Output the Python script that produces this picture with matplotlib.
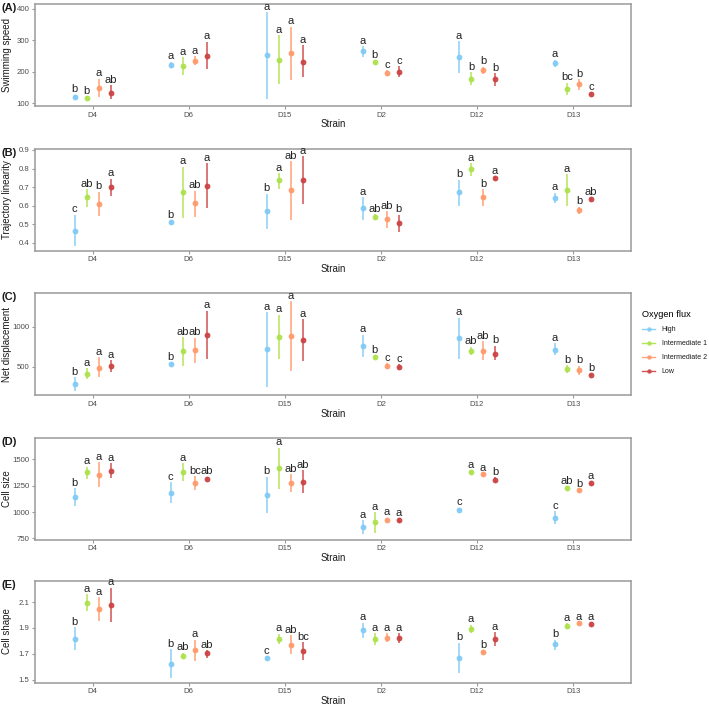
import numpy as np
import matplotlib
matplotlib.use("Agg")
import matplotlib.pyplot as plt
from matplotlib.lines import Line2D

plt.rcParams["font.family"] = ["Liberation Sans", "DejaVu Sans"]

# ── Data (rows = strain, columns = oxygen flux group) ─────────────────────────
strains = ["D4", "D6", "D15", "D2", "D12", "D13"]
groups = ["High", "Intermediate 1", "Intermediate 2", "Low"]
colors = ["#82CBF6", "#ACE24C", "#FF9A6C", "#CB4444"]

speed_mean = [[120, 117, 148, 133], [222, 217, 233, 250], [252, 238, 258, 232],
              [265, 229, 196, 200], [247, 178, 204, 176], [226, 145, 159, 129]]
speed_lo = [[114, 112, 118, 112], [212, 188, 220, 207], [113, 160, 172, 182],
            [247, 224, 187, 182], [197, 158, 193, 155], [215, 125, 143, 125]]
speed_hi = [[127, 122, 178, 157], [232, 245, 248, 295], [388, 316, 343, 283],
            [281, 234, 205, 218], [297, 198, 215, 195], [238, 165, 175, 133]]
speed_letters = [["b", "b", "a", "ab"], ["a", "a", "a", "a"], ["a", "a", "a", "a"],
                 ["a", "b", "c", "c"], ["a", "b", "b", "b"], ["a", "bc", "b", "c"]]

lin_mean = [[0.465, 0.645, 0.609, 0.700], [0.510, 0.675, 0.612, 0.707],
            [0.571, 0.740, 0.686, 0.740], [0.585, 0.538, 0.528, 0.506],
            [0.673, 0.797, 0.646, 0.751], [0.643, 0.684, 0.575, 0.634]]
lin_lo = [[0.380, 0.590, 0.545, 0.650], [0.500, 0.535, 0.540, 0.585],
          [0.475, 0.690, 0.525, 0.610], [0.520, 0.525, 0.480, 0.460],
          [0.600, 0.760, 0.600, 0.740], [0.615, 0.600, 0.555, 0.625]]
lin_hi = [[0.550, 0.690, 0.675, 0.745], [0.520, 0.810, 0.680, 0.830],
          [0.665, 0.775, 0.840, 0.865], [0.645, 0.555, 0.570, 0.550],
          [0.740, 0.830, 0.690, 0.760], [0.670, 0.770, 0.595, 0.645]]
lin_letters = [["c", "ab", "b", "a"], ["b", "a", "ab", "a"], ["b", "a", "ab", "a"],
               ["a", "ab", "ab", "b"], ["b", "a", "b", "a"], ["a", "a", "b", "ab"]]

disp_mean = [[283, 412, 487, 508], [533, 700, 708, 900], [717, 875, 883, 829],
             [762, 617, 508, 500], [862, 692, 700, 654], [712, 471, 454, 396]]
disp_lo = [[200, 345, 365, 430], [520, 510, 550, 600], [250, 590, 450, 565],
           [625, 600, 470, 470], [600, 640, 580, 580], [640, 420, 390, 380]]
disp_hi = [[370, 480, 620, 580], [550, 870, 860, 1200], [1180, 1150, 1320, 1090],
           [900, 640, 545, 530], [1110, 750, 820, 760], [790, 520, 510, 410]]
disp_letters = [["b", "a", "a", "a"], ["b", "ab", "ab", "a"], ["a", "a", "a", "a"],
                ["a", "b", "c", "c"], ["a", "ab", "ab", "b"], ["a", "b", "b", "b"]]

size_mean = [[1141, 1377, 1352, 1393], [1185, 1377, 1276, 1317], [1163, 1418, 1279, 1289],
             [854, 902, 927, 920], [1024, 1380, 1356, 1306], [948, 1232, 1204, 1273]]
size_lo = [[1055, 1310, 1235, 1325], [1085, 1290, 1210, 1300], [995, 1215, 1190, 1180],
           [790, 800, 910, 900], [1010, 1370, 1345, 1280], [890, 1220, 1195, 1260]]
size_hi = [[1225, 1430, 1470, 1460], [1280, 1460, 1340, 1335], [1335, 1610, 1360, 1395],
           [920, 1000, 945, 940], [1040, 1390, 1370, 1330], [1010, 1245, 1215, 1290]]
size_letters = [["b", "a", "a", "a"], ["c", "a", "bc", "ab"], ["b", "a", "ab", "ab"],
                ["a", "a", "a", "a"], ["c", "a", "a", "b"], ["c", "ab", "b", "a"]]

shape_mean = [[1.818, 2.095, 2.049, 2.077], [1.618, 1.685, 1.726, 1.703],
              [1.667, 1.816, 1.772, 1.723], [1.885, 1.816, 1.826, 1.820],
              [1.669, 1.895, 1.715, 1.818], [1.777, 1.913, 1.936, 1.928]]
shape_lo = [[1.730, 2.030, 1.955, 1.945], [1.510, 1.660, 1.645, 1.670],
            [1.655, 1.775, 1.700, 1.655], [1.820, 1.765, 1.790, 1.780],
            [1.550, 1.860, 1.700, 1.760], [1.730, 1.895, 1.925, 1.915]]
shape_hi = [[1.905, 2.160, 2.135, 2.210], [1.735, 1.710, 1.810, 1.730],
            [1.680, 1.855, 1.845, 1.790], [1.940, 1.860, 1.860, 1.860],
            [1.785, 1.925, 1.730, 1.865], [1.810, 1.935, 1.945, 1.940]]
shape_letters = [["b", "a", "a", "a"], ["b", "ab", "a", "ab"], ["c", "a", "ab", "bc"],
                 ["a", "a", "a", "a"], ["b", "a", "b", "a"], ["b", "a", "a", "a"]]

panels = [
    ("(A)", "Swimming speed", speed_mean, speed_lo, speed_hi, speed_letters,
     (90.6, 414.8), [100, 200, 300, 400], "{:.0f}"),
    ("(B)", "Trajectory linearity", lin_mean, lin_lo, lin_hi, lin_letters,
     (0.357, 0.907), [0.4, 0.5, 0.6, 0.7, 0.8, 0.9], "{:.1f}"),
    ("(C)", "Net displacement", disp_mean, disp_lo, disp_hi, disp_letters,
     (142, 1417), [500, 1000], "{:.0f}"),
    ("(D)", "Cell size", size_mean, size_lo, size_hi, size_letters,
     (738, 1704), [750, 1000, 1250, 1500], "{:.0f}"),
    ("(E)", "Cell shape", shape_mean, shape_lo, shape_hi, shape_letters,
     (1.479, 2.266), [1.5, 1.7, 1.9, 2.1], "{:.1f}"),
]

fig = plt.figure(figsize=(7.09, 7.06), dpi=100)
W, H = 709, 706
left, right = 35, 630.7
tops = [4, 148.7, 293.3, 437.7, 580.5]
ph = 102
offsets = np.array([-0.1875, -0.0625, 0.0625, 0.1875])
x = np.arange(len(strains))
border = "#9A9A9A"
tick_col = "#4D4D4D"

for (tag, ylabel, mean, lo, hi, letters, ylim, yticks, fmt), top in zip(panels, tops):
    ax = fig.add_axes([left / W, 1 - (top + ph) / H, (right - left) / W, ph / H])
    mean, lo, hi = np.array(mean), np.array(lo), np.array(hi)
    for g in range(len(groups)):
        xs = x + offsets[g]
        ax.vlines(xs, lo[:, g], hi[:, g], color=colors[g], lw=1.2, alpha=0.85, zorder=2)
        ax.plot(xs, mean[:, g], "o", color=colors[g], ms=4.2, mec="none", alpha=0.95, zorder=3)
        for i in range(len(strains)):
            ax.annotate(letters[i][g], (xs[i], hi[i, g]), xytext=(0, 0.3),
                        textcoords="offset points", ha="center", va="bottom",
                        fontsize=8, color="#222222", zorder=4)
    ax.set_xlim(-0.6, len(strains) - 0.4)
    ax.set_ylim(*ylim)
    ax.set_xticks(x)
    ax.set_xticklabels(strains)
    ax.set_yticks(yticks)
    ax.set_yticklabels([fmt.format(v) for v in yticks])
    ax.tick_params(colors=border, labelcolor=tick_col, labelsize=5.6, length=2.5, width=0.8, pad=1.5)
    for sp in ax.spines.values():
        sp.set_color(border)
        sp.set_linewidth(1.1)
    ax.set_xlabel("Strain", fontsize=7, color="#1A1A1A", labelpad=0.5)
    ax.set_ylabel(ylabel, fontsize=7, color="#1A1A1A")
    ax.yaxis.set_label_coords(-23 / (right - left), 0.5)
    fig.text(2 / W, 1 - (top + 4) / H, tag, fontsize=8, fontweight="bold",
             ha="left", va="center", color="#1A1A1A")

# Legend
handles = [Line2D([0], [0], color=c, lw=1.0, marker="o", ms=3.2, mec="none", alpha=0.9)
           for c in colors]
fig.legend(handles, groups, title="Oxygen flux", loc="upper left",
           bbox_to_anchor=(636 / W, 1 - 304 / H), frameon=False, fontsize=5,
           title_fontsize=6.7, handlelength=1.8, handletextpad=1.0, labelspacing=1.0,
           alignment="left", labelcolor="#1A1A1A")

fig.savefig("out.png", dpi=100, facecolor="white")
